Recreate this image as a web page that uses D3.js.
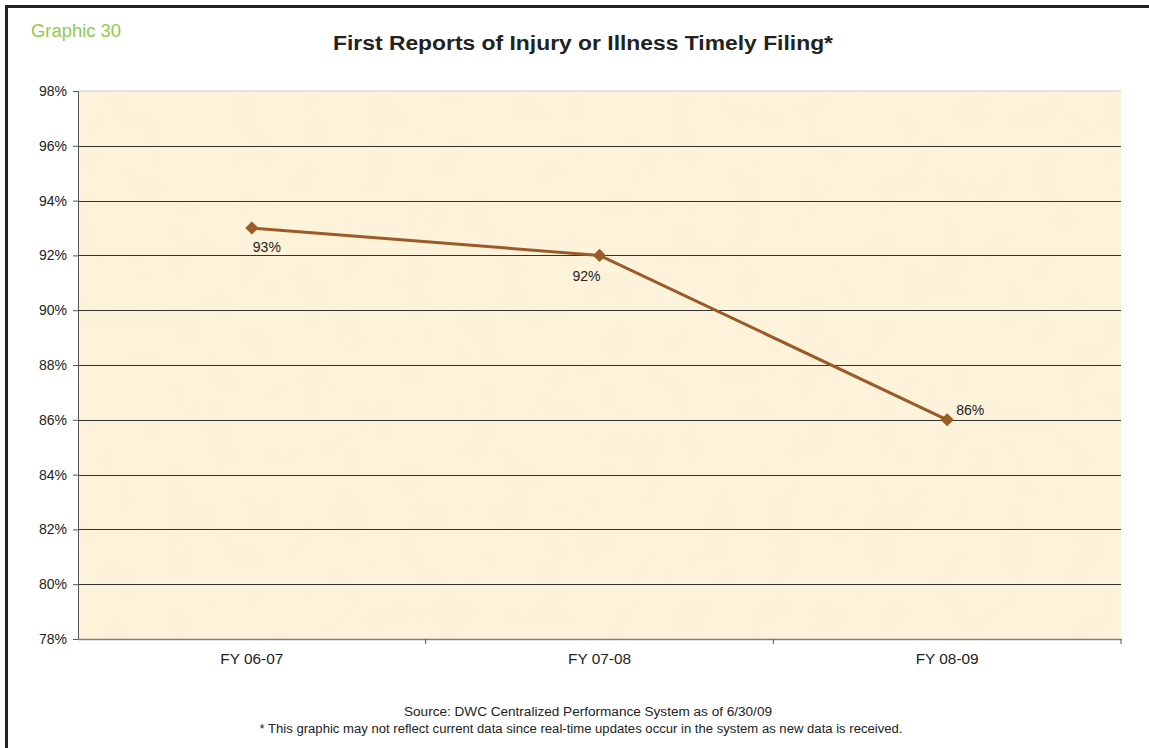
<!DOCTYPE html>
<html>
<head>
<meta charset="utf-8">
<script src="https://cdn.jsdelivr.net/npm/d3@7"></script>
<style>
  body { margin: 0; background: #fff; }
  svg { display: block; font-family: "Liberation Sans", Arial, sans-serif; }
</style>
</head>
<body>
<script>
// data
var years = ["FY 06-07", "FY 07-08", "FY 08-09"];
var timely = [93, 92, 86];
var labelText = ["93%", "92%", "86%"];
var yTicks = [78, 80, 82, 84, 86, 88, 90, 92, 94, 96, 98];

var width = 1149, height = 748;
var plotL = 78, plotR = 1121, plotT = 91, plotB = 639;

var svg = d3.select("body").append("svg")
  .attr("width", width).attr("height", height);

// paper texture for the plot area
var defs = svg.append("defs");
var f = defs.append("filter").attr("id", "paper")
  .attr("x", 0).attr("y", 0).attr("width", "100%").attr("height", "100%");
f.append("feTurbulence").attr("type", "fractalNoise")
  .attr("baseFrequency", "0.03").attr("numOctaves", 3).attr("seed", 4).attr("result", "noise");
f.append("feColorMatrix").attr("in", "noise").attr("type", "matrix")
  .attr("values", "0 0 0 0 0.96  0 0 0 0 0.88  0 0 0 0 0.70  0 0 0 0.9 -0.38")
  .attr("result", "tint");
f.append("feComposite").attr("in", "tint").attr("in2", "SourceGraphic").attr("operator", "atop");

// outer frame (top and left only, like the page crop)
svg.append("line").attr("x1", 5).attr("x2", width).attr("y1", 6.5).attr("y2", 6.5)
  .attr("stroke", "#222").attr("stroke-width", 3);
svg.append("line").attr("x1", 6.5).attr("x2", 6.5).attr("y1", 5).attr("y2", height)
  .attr("stroke", "#222").attr("stroke-width", 3);

svg.append("text").attr("x", 31).attr("y", 37)
  .attr("font-size", "18px").attr("fill", "#8fca4a")
  .attr("textLength", 90).attr("lengthAdjust", "spacingAndGlyphs")
  .text("Graphic 30");

svg.append("text").attr("x", 583).attr("y", 50).attr("text-anchor", "middle")
  .attr("font-size", "20px").attr("font-weight", "bold").attr("fill", "#222")
  .attr("textLength", 500).attr("lengthAdjust", "spacingAndGlyphs")
  .text("First Reports of Injury or Illness Timely Filing*");

var x = d3.scaleBand().domain(years).range([plotL, plotR]);
var y = d3.scaleLinear().domain([78, 98]).range([plotB, plotT]);

svg.append("rect").attr("x", plotL).attr("y", plotT)
  .attr("width", plotR - plotL).attr("height", plotB - plotT)
  .attr("fill", "#fdf2da").attr("filter", "url(#paper)");

// top border of plot
svg.append("line").attr("x1", plotL).attr("x2", plotR).attr("y1", plotT).attr("y2", plotT)
  .attr("stroke", "#d8d8d8").attr("stroke-width", 1.5);

// gridlines
svg.append("g").selectAll("line").data(yTicks.filter(function(d){ return d > 78 && d < 98; }))
  .enter().append("line")
  .attr("x1", plotL).attr("x2", plotR)
  .attr("y1", function(d){ return Math.round(y(d)) + 0.5; })
  .attr("y2", function(d){ return Math.round(y(d)) + 0.5; })
  .attr("stroke", "#333").attr("stroke-width", 1);

// y axis
var yAxis = svg.append("g").attr("transform", "translate(" + plotL + ",0)")
  .call(d3.axisLeft(y).tickValues(yTicks).tickSize(5).tickPadding(6)
    .tickFormat(function(d){ return d + "%"; }));
yAxis.select(".domain").attr("stroke", "#555");
yAxis.selectAll(".tick line").attr("stroke", "#555");
yAxis.selectAll("text").attr("font-size", "14px").attr("fill", "#222")
  .attr("font-family", "Liberation Sans, Arial, sans-serif");

// x axis
var xAxis = svg.append("g").attr("transform", "translate(0," + plotB + ")")
  .call(d3.axisBottom(x).tickSize(0).tickPadding(15));
xAxis.select(".domain").attr("stroke", "#808080").attr("stroke-width", 1.5);
xAxis.selectAll("text").attr("font-size", "14px").attr("fill", "#222")
  .attr("font-family", "Liberation Sans, Arial, sans-serif")
  .attr("textLength", 63).attr("lengthAdjust", "spacingAndGlyphs");
// band boundary ticks
svg.append("g").selectAll("line").data(years.slice(1).concat(["end"]))
  .enter().append("line")
  .attr("x1", function(d){ return d === "end" ? plotR : x(d); })
  .attr("x2", function(d){ return d === "end" ? plotR : x(d); })
  .attr("y1", plotB).attr("y2", plotB + 5)
  .attr("stroke", "#555");

// line + markers
var line = d3.line()
  .x(function(d, i){ return x(years[i]) + x.bandwidth() / 2; })
  .y(function(d){ return y(d); });
svg.append("path").datum(timely).attr("d", line)
  .attr("fill", "none").attr("stroke", "#9a5b28").attr("stroke-width", 3);

svg.append("g").selectAll("path").data(timely).enter().append("path")
  .attr("d", d3.symbol().type(d3.symbolDiamond2).size(110))
  .attr("transform", function(d, i){
    return "translate(" + (x(years[i]) + x.bandwidth() / 2) + "," + y(d) + ")";
  })
  .attr("fill", "#9a5b28");

// data labels
var labelDx = [15, -13, 23];
var labelDy = [24, 26, -5];
svg.append("g").selectAll("text").data(timely).enter().append("text")
  .attr("x", function(d, i){ return x(years[i]) + x.bandwidth() / 2 + labelDx[i]; })
  .attr("y", function(d, i){ return y(d) + labelDy[i]; })
  .attr("text-anchor", "middle").attr("font-size", "14px").attr("fill", "#222")
  .text(function(d, i){ return labelText[i]; });

// footnotes
svg.append("text").attr("x", 588).attr("y", 716).attr("text-anchor", "middle")
  .attr("font-size", "12px").attr("fill", "#222")
  .attr("textLength", 368).attr("lengthAdjust", "spacingAndGlyphs")
  .text("Source: DWC Centralized Performance System as of 6/30/09");
svg.append("text").attr("x", 581).attr("y", 733).attr("text-anchor", "middle")
  .attr("font-size", "12px").attr("fill", "#222")
  .attr("textLength", 643).attr("lengthAdjust", "spacingAndGlyphs")
  .text("* This graphic may not reflect current data since real-time updates occur in the system as new data is received.");
</script>
</body>
</html>
